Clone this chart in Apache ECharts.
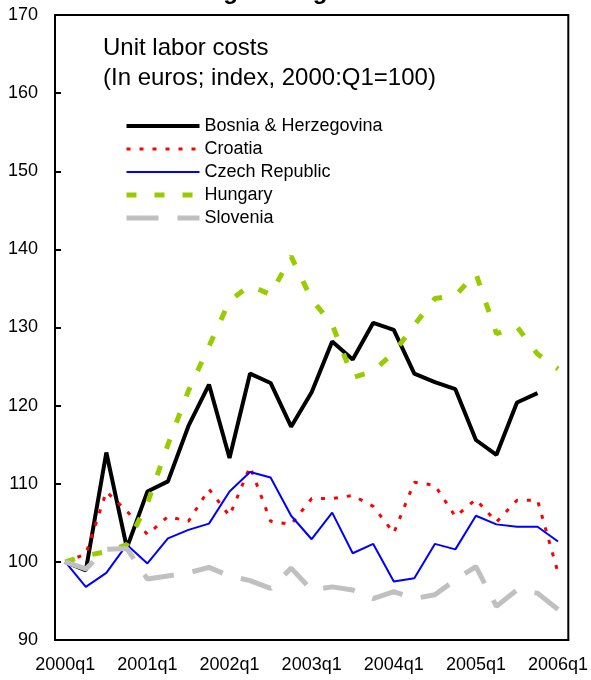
<!DOCTYPE html>
<html>
<head>
<meta charset="utf-8">
<script src="https://cdn.jsdelivr.net/npm/echarts@6/dist/echarts.min.js"></script>
<style>
  html, body { margin: 0; padding: 0; background: #fff; }
  #chart { width: 591px; height: 680px; }
</style>
</head>
<body>
<div id="chart"></div>
<script>
// quarters 2000q1 .. 2006q1
const quarters = [
  '2000q1', '2000q2', '2000q3', '2000q4',
  '2001q1', '2001q2', '2001q3', '2001q4',
  '2002q1', '2002q2', '2002q3', '2002q4',
  '2003q1', '2003q2', '2003q3', '2003q4',
  '2004q1', '2004q2', '2004q3', '2004q4',
  '2005q1', '2005q2', '2005q3', '2005q4',
  '2006q1'
]

// index values (2000:Q1 = 100)
const bosnia = [100, 98.9, 114, 101.8, 109, 110.3, 117.4, 122.7, 113.3, 124.1, 122.9, 117.3,
  121.7, 128.2, 125.9, 130.6, 129.7, 124.1, 123.0, 122.1, 115.6, 113.7, 120.4, 121.6, null]
const croatia = [100, 101, 109, 106.5, 103.5, 105.8, 105.2, 109.3, 105.9, 112.2, 105.2, 104.8,
  108.1, 108.1, 108.5, 107.1, 103.7, 110.2, 109.8, 105.8, 108.0, 105.1, 107.9, 107.9, 98.6]
const czech = [100, 96.8, 98.6, 102.2, 99.8, 103.0, 104.1, 104.9, 109.0, 111.5, 110.8, 105.9,
  102.9, 106.3, 101.1, 102.3, 97.5, 97.9, 102.3, 101.6, 105.9, 104.8, 104.5, 104.5, 102.6]
const hungary = [100, 100.8, 101.3, 102.2, 107.5, 115, 121.9, 127.6, 133.4, 135.4, 134.2, 139.1,
  133.6, 130.4, 123.6, 124.4, 126.8, 130.3, 133.7, 134.1, 136.9, 129.2, 130.1, 126.6, 124.7]
const slovenia = [100, 99.1, 101.6, 101.7, 97.8, 98.2, 98.6, 99.3, 98.2, 97.6, 96.6, 99.2,
  96.4, 96.8, 96.4, 95.3, 96.2, 95.3, 95.8, 97.7, 99.4, 94.3, 96.4, 96.0, 93.9]

const font = '"Liberation Sans", Arial, sans-serif'

// line looks, shared by series and legend
const styles = {
  'Bosnia & Herzegovina': { color: '#000000', width: 4, type: 'solid' },
  'Croatia': { color: '#ff0000', width: 3, type: [4, 9] },
  'Czech Republic': { color: '#0000ff', width: 2, type: 'solid' },
  'Hungary': { color: '#99cc00', width: 5, type: [10, 18] },
  'Slovenia': { color: '#c0c0c0', width: 5, type: [32, 19] }
}
const seriesData = {
  'Bosnia & Herzegovina': bosnia,
  'Croatia': croatia,
  'Czech Republic': czech,
  'Hungary': hungary,
  'Slovenia': slovenia
}
const names = Object.keys(styles)

const chart = echarts.init(document.getElementById('chart'))

const option = {
  animation: false,
  backgroundColor: '#fff',
  title: {
    text: 'Unit labor costs\n(In euros; index, 2000:Q1=100)',
    left: 98,
    top: 28,
    textStyle: {
      fontFamily: font,
      fontSize: 24,
      fontWeight: 'normal',
      color: '#000',
      lineHeight: 30
    }
  },
  // chart heading, cut off at the top edge like in the picture
  graphic: [{
    type: 'text',
    x: 316,
    y: 4,
    style: {
      text: 'Neighboring Countries',
      font: 'bold 24px "Liberation Sans", Arial, sans-serif',
      fill: '#000',
      align: 'center',
      verticalAlign: 'bottom'
    }
  }],
  legend: {
    orient: 'vertical',
    left: 119,
    top: 112,
    itemWidth: 73,
    itemHeight: 14,
    itemGap: 5,
    textStyle: { fontFamily: font, fontSize: 18, color: '#000' },
    data: names.map(n => ({
      name: n,
      itemStyle: { opacity: 0 },
      lineStyle: { color: styles[n].color, width: styles[n].width, type: styles[n].type }
    }))
  },
  grid: {
    left: 55,
    right: 19,
    top: 15,
    bottom: 40,
    show: true,
    borderColor: '#000',
    borderWidth: 2
  },
  xAxis: {
    type: 'category',
    data: quarters,
    boundaryGap: true,
    axisLine: { lineStyle: { color: '#000', width: 2 } },
    axisTick: { inside: true, interval: 1, length: 6, lineStyle: { color: '#000', width: 2 } },
    axisLabel: { interval: 3, color: '#000', fontFamily: font, fontSize: 18, margin: 16 }
  },
  yAxis: {
    type: 'value',
    min: 90,
    max: 170,
    interval: 10,
    axisLine: { show: true, lineStyle: { color: '#000', width: 2 } },
    axisTick: { show: true, inside: true, length: 6, lineStyle: { color: '#000', width: 2 } },
    axisLabel: { color: '#000', fontFamily: font, fontSize: 18, margin: 17 },
    splitLine: { show: false }
  },
  series: names.map(n => ({
    name: n,
    type: 'line',
    data: seriesData[n],
    symbol: 'none',
    color: styles[n].color,
    lineStyle: { color: styles[n].color, width: styles[n].width, type: styles[n].type }
  }))
}

chart.setOption(option)
</script>
</body>
</html>
